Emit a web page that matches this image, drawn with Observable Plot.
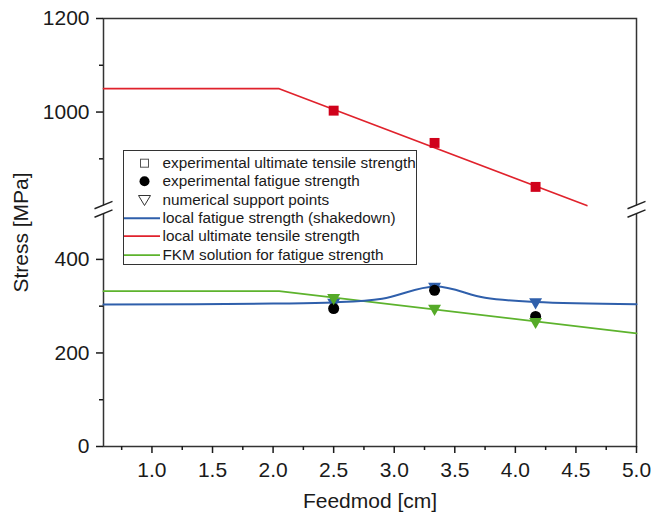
<!DOCTYPE html>
<html><head><meta charset="utf-8">
<script src="https://cdn.jsdelivr.net/npm/d3@7"></script>
<script src="https://cdn.jsdelivr.net/npm/@observablehq/plot@0.6"></script>
<style>
body{margin:0;background:#fff;font-family:"Liberation Sans",Arial,sans-serif;}
#wrap{position:relative;width:664px;height:520px;}
#legend{position:absolute;left:123px;top:150px;width:294px;height:115px;border:1.5px solid #333;background:#fff;box-sizing:border-box;font-size:15.3px;color:#1a1a1a;}
#legend .row{position:absolute;left:0;height:18.3px;line-height:18.3px;white-space:nowrap;}
#legend svg{position:absolute;left:0;top:0;}
#legend span{position:absolute;left:38.5px;top:0;}
</style>
</head><body>
<div id="wrap"><div id="chart"></div><div id="legend"></div></div>
<script>
// ---- data ----
const xPoints = [2.5, 3.333, 4.167];                 // Feedmod [cm]
const utsExperimental = [1003, 934, 840];            // experimental ultimate tensile strength
const fatigueExperimental = [295, 334, 278];         // experimental fatigue strength
const supportShakedown = [308, 342, 309];            // numerical support points (shakedown)
const supportFKM = [318, 295, 267];                  // numerical support points (FKM)

const utsLineX = [0.6, 2.05, 4.59];
const utsLineY = [1050, 1050, 800];
const fkmLineX = [0.6, 2.05, 5.0];
const fkmLineY = [332, 332, 242];
const shakedownX = [0.6, 2.0, 2.5, 2.9, 3.34, 3.75, 4.17, 5.0];
const shakedownY = [303.5, 305.5, 308, 316, 342, 318, 309, 304];

const yMajorTicks = [0, 200, 400, 1000, 1200];
const yMinorTicks = [100, 300, 900, 1100];
const xMajorTicks = [1.0, 1.5, 2.0, 2.5, 3.0, 3.5, 4.0, 4.5, 5.0];
const xMinorTicks = [0.75, 1.25, 1.75, 2.25, 2.75, 3.25, 3.75, 4.25, 4.75];
const xDomain = [0.6, 5.0];
const breakLow = 507, breakHigh = 792;               // axis break
const yMax = 1200;

const legendLabels = [
  "experimental ultimate tensile strength",
  "experimental fatigue strength",
  "numerical support points",
  "local fatigue strength (shakedown)",
  "local ultimate tensile strength",
  "FKM solution for fatigue strength"
];

// ---- colours ----
const RED = "#e0222c", RED_SQ = "#d0021b", BLUE = "#2f5fab", GREEN = "#5db32d", GREEN_TRI = "#55aa28";

// ---- broken axis transform ----
const gap = breakHigh - breakLow;
const t = v => v <= breakLow ? v : v - gap;
const tInv = u => u <= breakLow ? u : u + gap;

const pts = xPoints.map((x, i) => ({
  x, uts: t(utsExperimental[i]), fat: t(fatigueExperimental[i]),
  sd: t(supportShakedown[i]), fkm: t(supportFKM[i])
}));
const utsLine = utsLineX.map((x, i) => ({x, y: t(utsLineY[i])}));
const fkmLine = fkmLineX.map((x, i) => ({x, y: t(fkmLineY[i])}));
const sdLine = shakedownX.map((x, i) => ({x, y: t(shakedownY[i])}));
const breaks = [{x: xDomain[0], y: breakLow}, {x: xDomain[1], y: breakLow}];

const triDown = {draw(ctx, size) {
  const s3 = Math.sqrt(3), y = Math.sqrt(size / (s3 * 3));
  ctx.moveTo(0, 2 * y); ctx.lineTo(-s3 * y, -y); ctx.lineTo(s3 * y, -y); ctx.closePath();
}};
const breakFill = {draw(ctx) {
  ctx.moveTo(-9, -0.3); ctx.lineTo(9, -7.9); ctx.lineTo(9, 0.3); ctx.lineTo(-9, 7.9); ctx.closePath();
}};
const breakLines = {draw(ctx) {
  ctx.moveTo(-9, -0.6); ctx.lineTo(9, -7.9);
  ctx.moveTo(-9, 7.9); ctx.lineTo(9, 0.6);
}};

const chart = Plot.plot({
  width: 664, height: 520,
  marginLeft: 103, marginRight: 28, marginTop: 18, marginBottom: 74,
  style: {fontFamily: '"Liberation Sans", Arial, sans-serif', color: "#1a1a1a", background: "#fff"},
  x: {domain: xDomain},
  y: {domain: [0, t(yMax)]},
  marks: [
    Plot.frame({stroke: "#333", strokeWidth: 1.5}),
    Plot.axisY(yMajorTicks.map(t), {tickSize: 7, tickPadding: 7, strokeWidth: 1.5, fontSize: 21,
      tickFormat: u => String(Math.round(tInv(u))),
      label: "Stress [MPa]", labelAnchor: "center", labelOffset: 90, labelArrow: "none"}),
    Plot.axisY(yMinorTicks.map(t), {tickSize: 4, strokeWidth: 1.5, tickFormat: () => "", label: null}),
    Plot.axisX(xMajorTicks, {tickSize: 7, tickPadding: 9, strokeWidth: 1.5, fontSize: 21,
      tickFormat: d3.format(".1f"),
      label: "Feedmod [cm]", labelAnchor: "center", labelOffset: 61, labelArrow: "none"}),
    Plot.axisX(xMinorTicks, {tickSize: 4, strokeWidth: 1.5, tickFormat: () => "", label: null}),
    Plot.line(utsLine, {x: "x", y: "y", stroke: RED, strokeWidth: 1.6}),
    Plot.line(fkmLine, {x: "x", y: "y", stroke: GREEN, strokeWidth: 1.8}),
    Plot.line(sdLine, {x: "x", y: "y", stroke: BLUE, strokeWidth: 2, curve: "catmull-rom"}),
    Plot.dot(pts, {x: "x", y: "sd", symbol: triDown, r: 4.8, fill: BLUE, stroke: "none"}),
    Plot.dot(pts, {x: "x", y: "fat", symbol: "circle", r: 5.5, fill: "#000", stroke: "none"}),
    Plot.dot(pts, {x: "x", y: "fkm", symbol: triDown, r: 4.8, fill: GREEN_TRI, stroke: "none"}),
    Plot.dot(pts, {x: "x", y: "uts", symbol: "square", r: 5.6, fill: RED_SQ, stroke: "none"}),
    Plot.dot(breaks, {x: "x", y: "y", symbol: breakFill, r: 5, fill: "#fff", stroke: "none"}),
    Plot.dot(breaks, {x: "x", y: "y", symbol: breakLines, r: 5, fill: "none", stroke: "#222", strokeWidth: 1.4})
  ]
});
document.getElementById("chart").appendChild(chart);

// ---- legend ----
const legendSymbols = [
  '<rect x="16.5" y="5.2" width="8" height="8" fill="none" stroke="#555" stroke-width="1"/>',
  '<circle cx="20.5" cy="9.2" r="5" fill="#000"/>',
  '<path d="M14.5,4.5 L26.5,4.5 L20.5,14.5 Z" fill="none" stroke="#333" stroke-width="1"/>',
  `<line x1="0" x2="36" y1="9.2" y2="9.2" stroke="${BLUE}" stroke-width="2"/>`,
  `<line x1="0" x2="36" y1="9.2" y2="9.2" stroke="${RED}" stroke-width="1.8"/>`,
  `<line x1="0" x2="36" y1="9.2" y2="9.2" stroke="${GREEN}" stroke-width="1.8"/>`
];
const legend = document.getElementById("legend");
legendLabels.forEach((lab, i) => {
  const row = document.createElement("div");
  row.className = "row";
  row.style.top = (3 + 18.3 * i) + "px";
  row.style.width = "290px";
  row.innerHTML = `<svg width="40" height="18.3">${legendSymbols[i]}</svg><span>${lab}</span>`;
  legend.appendChild(row);
});
</script>
</body></html>
